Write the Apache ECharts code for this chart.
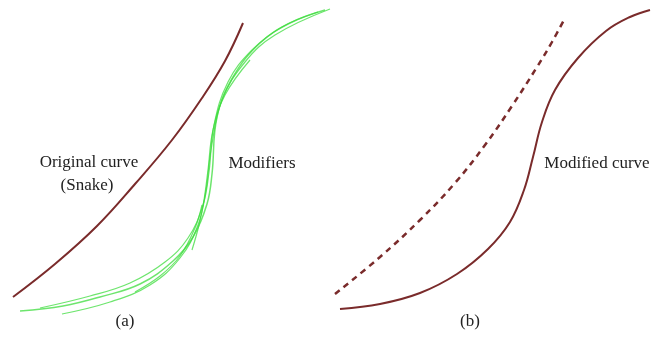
<!DOCTYPE html>
<html><head><meta charset="utf-8">
<script src="https://cdn.jsdelivr.net/npm/echarts@6/dist/echarts.min.js"></script>
<style>html,body{margin:0;padding:0;background:#fff}#c{width:660px;height:348px}</style>
</head><body><div id="c"></div>
<script>
// Curves as [x, y] in figure units (x right, y down)
const originalCurve = [[13,297],[55,264],[97,226],[135,184],[172,140],[202,98],[225,61],[243,23]];
const modifierA = [[20,311],[63,306],[100,297],[140,284],[173,261],[193,237],[207,204],[212,174],[217,117],[233,77],[260,43],[290,23],[325,10]];
const modifierB = [[40,308],[90,296],[130,283],[165,262],[188,238],[203,205],[209,172],[214,125],[228,82],[252,50],[282,27],[318,12]];
const modifierC = [[62,314],[110,302],[150,285],[180,258],[198,225],[206,190],[211,150],[222,100],[245,62],[275,35],[330,9]];
const modifierD = [[135,292],[160,276],[180,256],[195,228],[202,205]];
const modifierE = [[192,250],[199,225],[204,200],[208,170],[213,130],[225,95],[250,60]];
const dashedCurve = [[335,294],[380,257],[420,220],[455,183],[485,145],[512,106],[537,67],[552,42],[565,18]];
const modifiedCurve = [[340,309],[380,304],[420,293],[457,274],[488,249],[510,222],[524,190],[533,157],[542,122],[555,90],[578,58],[606,31],[630,17],[650,10]];
const labels = [
  {text:'Original curve', x:89, y:163},
  {text:'(Snake)', x:87, y:186},
  {text:'Modifiers', x:262, y:164},
  {text:'Modified curve', x:597, y:164},
  {text:'(a)', x:125, y:322},
  {text:'(b)', x:470, y:322}
];

const red = '#7a2b2b';
const green = 'rgba(60,220,60,0.75)';
function line(data, color, width, type){
  return {type:'line', data:data, smooth:0.4, symbol:'none', silent:true,
    lineStyle:{color:color, width:width, type:type||'solid'}};
}
const chart = echarts.init(document.getElementById('c'));
chart.setOption({
  animation:false,
  grid:{left:0, right:0, top:0, bottom:0},
  xAxis:{type:'value', min:0, max:660, show:false},
  yAxis:{type:'value', min:0, max:348, inverse:true, show:false},
  series:[
    line(originalCurve, red, 2),
    line(modifierA, green, 1.5),
    line(modifierB, green, 1.2),
    line(modifierC, green, 1.2),
    line(modifierD, green, 1.2),
    line(modifierE, green, 1.2),
    line(dashedCurve, red, 2.5, [6,5]),
    line(modifiedCurve, red, 2)
  ],
  graphic: labels.map(l => ({type:'text', x:l.x, y:l.y, style:{text:l.text, fill:'#222',
    font:'17px "Liberation Serif", "DejaVu Serif", serif', textAlign:'center', textVerticalAlign:'middle'}}))
});
</script></body></html>
